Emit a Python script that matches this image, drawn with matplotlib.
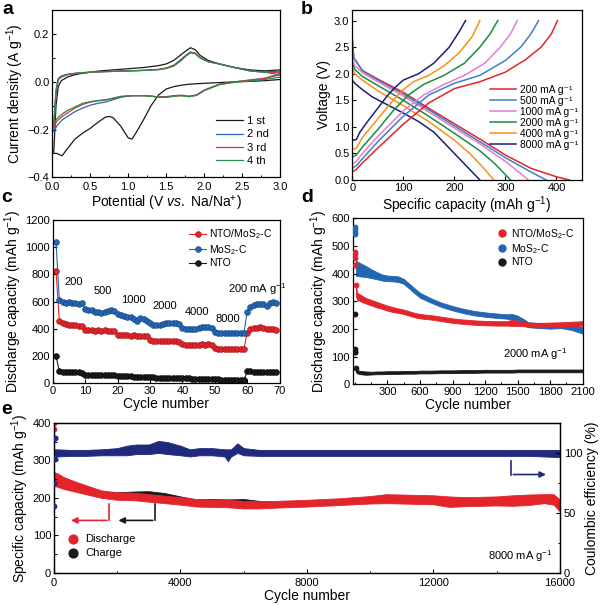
import matplotlib.pyplot as plt
from matplotlib.ticker import MultipleLocator

plt.rcParams['font.family'] = ['Liberation Sans', 'DejaVu Sans']
plt.rcParams['mathtext.fontset'] = 'custom'
plt.rcParams['mathtext.rm'] = 'Liberation Sans'
plt.rcParams['mathtext.it'] = 'Liberation Sans:italic'
plt.rcParams['mathtext.bf'] = 'Liberation Sans:bold'
plt.rcParams['xtick.direction'] = 'in'
plt.rcParams['ytick.direction'] = 'in'
plt.rcParams['xtick.labelsize'] = 8
plt.rcParams['ytick.labelsize'] = 8
plt.rcParams['axes.labelsize'] = 10
plt.rcParams['axes.linewidth'] = 0.9

# ---- a: CV curves ----
pot_down = [3.0, 2.8, 2.6, 2.4, 2.2, 2.0, 1.9, 1.8, 1.7, 1.6, 1.5, 1.4, 1.3, 1.2, 1.1,
            1.05, 1.0, 0.9, 0.8, 0.75, 0.7, 0.6, 0.5, 0.4, 0.3, 0.2, 0.13, 0.06, 0.02]
pot_up = [0.02, 0.05, 0.08, 0.12, 0.2, 0.3, 0.4, 0.6, 0.8, 1.0, 1.2, 1.4, 1.5, 1.6, 1.7,
          1.76, 1.82, 1.88, 1.95, 2.05, 2.2, 2.4, 2.6, 2.8, 3.0]
cv1_down = [0.01, 0.005, 0.002, 0.0, -0.003, -0.006, -0.008, -0.01, -0.014, -0.02, -0.03,
            -0.055, -0.1, -0.16, -0.215, -0.24, -0.235, -0.185, -0.15, -0.145, -0.148, -0.17,
            -0.195, -0.215, -0.24, -0.28, -0.31, -0.3, -0.3]
cv1_up = [-0.3, -0.1, -0.02, 0.005, 0.02, 0.03, 0.036, 0.045, 0.05, 0.055, 0.06, 0.068, 0.075,
          0.09, 0.115, 0.13, 0.143, 0.135, 0.11, 0.09, 0.075, 0.06, 0.05, 0.046, 0.05]
cv2_down = [0.03, 0.015, 0.008, 0.0, -0.01, -0.035, -0.055, -0.06, -0.056, -0.058, -0.062,
            -0.063, -0.06, -0.058, -0.058, -0.058, -0.06, -0.065, -0.075, -0.08, -0.085, -0.09,
            -0.098, -0.11, -0.125, -0.145, -0.16, -0.185, -0.21]
cv2_up = [-0.21, -0.05, 0.01, 0.02, 0.03, 0.035, 0.038, 0.042, 0.044, 0.046, 0.048, 0.052,
          0.058, 0.07, 0.095, 0.112, 0.125, 0.12, 0.1, 0.085, 0.075, 0.06, 0.047, 0.042, 0.045]
cv3_down = [0.035, 0.015, 0.006, 0.0, -0.01, -0.035, -0.055, -0.062, -0.058, -0.06, -0.064,
            -0.064, -0.06, -0.058, -0.058, -0.058, -0.059, -0.062, -0.07, -0.073, -0.077, -0.08,
            -0.085, -0.095, -0.11, -0.13, -0.145, -0.165, -0.19]
cv3_up = [-0.19, -0.04, 0.012, 0.022, 0.03, 0.035, 0.038, 0.042, 0.044, 0.046, 0.048, 0.052,
          0.057, 0.068, 0.093, 0.11, 0.124, 0.12, 0.1, 0.085, 0.075, 0.06, 0.046, 0.04, 0.04]
cv4_down = [0.02, 0.01, 0.004, -0.002, -0.012, -0.037, -0.057, -0.062, -0.058, -0.06, -0.065,
            -0.065, -0.06, -0.058, -0.058, -0.058, -0.059, -0.061, -0.068, -0.072, -0.075, -0.078,
            -0.083, -0.09, -0.105, -0.12, -0.135, -0.155, -0.175]
cv4_up = [-0.175, -0.035, 0.015, 0.025, 0.032, 0.036, 0.039, 0.042, 0.044, 0.046, 0.048, 0.051,
          0.056, 0.066, 0.09, 0.108, 0.122, 0.118, 0.1, 0.085, 0.075, 0.06, 0.046, 0.04, 0.03]
cv_labels = ['1 st', '2 nd', '3 rd', '4 th']
cv_colors = ['#1a1a1a', '#2b64b0', '#d8342f', '#2c8a4e']

# ---- b: charge / discharge profiles ----
rate_labels = ['200 mA g⁻¹', '500 mA g⁻¹', '1000 mA g⁻¹',
               '2000 mA g⁻¹', '4000 mA g⁻¹', '8000 mA g⁻¹']
rate_colors = ['#e3242b', '#3f7fcc', '#e57fcb', '#1b8b3c', '#f7901e', '#1c2070']
dis_q = [[0, 3, 20, 50, 100, 150, 200, 250, 300, 350, 400, 425],
         [0, 3, 20, 50, 100, 150, 200, 250, 300, 350, 380],
         [0, 5, 20, 50, 100, 150, 200, 250, 300, 330, 345],
         [0, 5, 20, 50, 100, 150, 200, 250, 280, 300, 310],
         [0, 5, 20, 50, 100, 150, 200, 230, 255, 270, 277],
         [0, 5, 20, 40, 60, 80, 100, 130, 160, 190, 220, 240, 250]]
dis_v = [[2.65, 2.3, 2.06, 1.9, 1.65, 1.35, 1.06, 0.77, 0.47, 0.22, 0.06, 0.0],
         [2.7, 2.3, 2.05, 1.88, 1.62, 1.32, 1.02, 0.72, 0.42, 0.15, 0.0],
         [2.3, 2.15, 2.02, 1.85, 1.58, 1.28, 0.98, 0.68, 0.35, 0.12, 0.0],
         [2.2, 2.08, 1.95, 1.78, 1.5, 1.2, 0.88, 0.55, 0.3, 0.1, 0.0],
         [2.1, 2.0, 1.88, 1.68, 1.4, 1.1, 0.75, 0.5, 0.25, 0.08, 0.0],
         [1.88, 1.82, 1.7, 1.56, 1.46, 1.36, 1.26, 1.1, 0.9, 0.6, 0.3, 0.1, 0.0]]
chg_q = [[0, 8, 20, 50, 100, 150, 200, 250, 300, 340, 370, 390, 402],
         [0, 8, 20, 50, 100, 150, 200, 250, 300, 330, 350, 365],
         [0, 8, 20, 50, 100, 140, 180, 220, 260, 290, 310, 323],
         [0, 8, 20, 50, 80, 110, 140, 180, 220, 250, 270, 285],
         [0, 8, 20, 50, 80, 100, 120, 150, 180, 210, 235, 250],
         [0, 8, 15, 30, 50, 70, 85, 100, 130, 160, 190, 210, 222]]
chg_v = [[0.15, 0.2, 0.32, 0.6, 1.05, 1.45, 1.72, 1.85, 2.03, 2.27, 2.5, 2.75, 3.0],
         [0.22, 0.27, 0.4, 0.72, 1.2, 1.6, 1.82, 1.97, 2.25, 2.5, 2.75, 3.0],
         [0.3, 0.35, 0.5, 0.82, 1.3, 1.6, 1.8, 1.97, 2.2, 2.5, 2.75, 3.0],
         [0.43, 0.47, 0.62, 0.95, 1.3, 1.6, 1.8, 1.97, 2.2, 2.5, 2.75, 3.0],
         [0.57, 0.6, 0.8, 1.15, 1.5, 1.7, 1.85, 1.97, 2.15, 2.4, 2.7, 3.0],
         [0.75, 0.76, 0.9, 1.1, 1.35, 1.6, 1.75, 1.88, 2.0, 2.2, 2.5, 2.8, 3.0]]

# ---- c: rate capability ----
rate_cycles = list(range(1, 70))
rate_nto_mos2 = [825, 455, 445, 438, 430, 425, 425, 420, 418,
                 390, 392, 390, 385, 388, 385, 388, 385, 385, 380,
                 355, 350, 350, 350, 348, 350, 348, 348, 348, 345,
                 315, 312, 310, 310, 310, 310, 310, 308, 310, 305,
                 285, 282, 280, 280, 280, 282, 285, 282, 285, 280,
                 255, 252, 250, 250, 250, 250, 250, 250, 250, 252,
                 370, 395, 405, 405, 410, 405, 400, 400, 398, 392]
rate_mos2 = [1040, 615, 600, 590, 595, 590, 588, 585, 590,
             545, 540, 535, 520, 520, 515, 520, 530, 535, 530,
             510, 500, 495, 490, 485, 470, 460, 480, 470, 460,
             440, 425, 425, 430, 435, 440, 440, 445, 440, 435,
             405, 395, 395, 395, 400, 405, 410, 410, 412, 405,
             375, 368, 368, 370, 372, 372, 372, 372, 372, 372,
             525, 560, 578, 585, 585, 580, 570, 590, 595, 590]
rate_nto = [200, 88, 82, 80, 80, 79, 78, 78, 77,
            62, 60, 60, 59, 58, 58, 58, 57, 57, 56,
            50, 49, 48, 48, 48, 47, 47, 47, 46, 46,
            42, 41, 40, 40, 40, 40, 39, 39, 39, 38,
            34, 33, 33, 32, 32, 32, 31, 31, 31, 30,
            27, 26, 25, 25, 24, 23, 22, 22, 21, 20,
            85, 85, 84, 84, 83, 83, 82, 82, 82, 81]
rate_text = ['200', '500', '1000', '2000', '4000', '8000', '200 mA g$^{-1}$']
rate_text_x = [6.5, 15.5, 25, 34.5, 44.5, 54, 63]
rate_text_y = [745, 680, 614, 564, 520, 470, 693]

# ---- d: cycling at 2000 mA g-1 (band centre and half width) ----
d_cycles = [8, 20, 50, 100, 150, 200, 250, 300, 350, 400, 450, 500, 550, 600, 700, 800,
            900, 1000, 1100, 1200, 1300, 1400, 1450, 1500, 1550, 1600, 1700, 1800, 1900,
            2000, 2100]
d_nto_mos2 = [340, 318, 312, 302, 295, 288, 282, 275, 270, 266, 262, 256, 250, 246, 242,
              236, 230, 226, 223, 221, 220, 220, 222, 220, 218, 215, 214, 215, 216, 218, 220]
d_nto_mos2_w = [20, 13, 12, 10, 10, 10, 9, 9, 9, 8, 8, 8, 8, 8, 8, 8, 8, 8, 8, 8, 8, 8, 11,
                9, 8, 8, 8, 8, 8, 8, 8]
d_mos2 = [420, 418, 414, 408, 400, 393, 386, 383, 382, 380, 372, 355, 338, 322, 303, 287,
          275, 265, 257, 252, 248, 245, 244, 240, 228, 215, 212, 210, 212, 205, 195]
d_mos2_w = [28, 26, 24, 20, 16, 13, 11, 10, 10, 10, 9, 9, 9, 9, 8, 8, 8, 8, 8, 8, 8, 8, 10,
            8, 9, 9, 9, 9, 9, 9, 12]
d_nto = [50, 45, 42, 40, 40, 41, 41, 42, 42, 42, 43, 43, 43, 44, 44, 45, 45, 46, 46, 47, 47,
         47, 47, 48, 48, 48, 48, 48, 48, 48, 48]
d_nto_w = [6, 6, 6, 6, 5, 5, 5, 5, 5, 5, 5, 5, 5, 5, 5, 5, 5, 5, 5, 5, 5, 5, 5, 5, 5, 5, 5,
           5, 5, 5, 5]
d_head_x = [1, 2, 3, 4, 6]
d_head_nto_mos2 = [470, 480, 455, 430, 360]
d_head_mos2 = [545, 560, 570, 550, 430]
d_head_nto = [255, 128, 118, 115, 60]

# ---- e: cycling at 8000 mA g-1 ----
e_cycles = [0, 100, 300, 600, 1000, 1500, 2000, 2500, 3000, 3500, 4000, 4500, 5000, 5500,
            6000, 6500, 7000, 8000, 9000, 10000, 10500, 11000, 12000, 12500, 13000, 14000,
            14500, 15000, 15500, 15800, 16000]
e_dis = [250, 248, 240, 232, 222, 210, 205, 204, 200, 196, 192, 187, 186, 185, 182, 182,
         183, 186, 190, 195, 198, 197, 195, 190, 190, 192, 193, 195, 198, 196, 180]
e_dis_w = [18, 18, 16, 14, 12, 10, 10, 10, 10, 10, 10, 10, 10, 10, 10, 10, 9, 9, 9, 10, 12,
           12, 12, 14, 12, 12, 14, 14, 12, 14, 16]
e_chg = [255, 250, 242, 233, 222, 211, 210, 212, 212, 208, 200, 192, 193, 192, 193, 188,
         185, 186, 190, 195, 198, 197, 195, 190, 190, 192, 193, 195, 198, 196, 182]
e_chg_w = [14, 14, 12, 10, 10, 6, 5, 5, 6, 5, 4, 4, 4, 4, 4, 4, 4, 4, 4, 4, 4, 4, 4, 4, 4,
           4, 4, 4, 4, 4, 4]
e_ce_x = [0, 100, 500, 1000, 1500, 2000, 2300, 2600, 3000, 3300, 3600, 4000, 4300, 4600,
          5000, 5400, 5500, 5600, 5800, 6000, 6500, 7000, 8000, 10000, 12000, 14000, 15000,
          16000]
e_ce = [100, 100, 100, 100, 100.5, 101, 102, 103, 103, 105, 104, 102, 100, 101, 101, 100,
        98, 100, 104, 101, 100, 100, 100, 100, 100, 100, 100, 99.5]
e_ce_w = [3, 3, 2.5, 2.5, 2.5, 3, 4, 4, 4, 5, 5, 4, 3, 3, 3, 3, 5, 3, 4, 3, 2.5, 2.5, 2.5,
          2.5, 2.5, 2.5, 2.5, 3]
e_head_x = [5, 15, 25, 40]
e_head_dis = [400, 385, 360, 320]
e_head_ce = [56, 75, 112, 95]

RED, BLUE, BLACK, NAVY = '#e3242b', '#2366b4', '#1a1a1a', '#1f2a7c'

fig = plt.figure(figsize=(6, 6.05), dpi=100)
ax_a = fig.add_axes([0.087, 0.707, 0.38, 0.276])
ax_b = fig.add_axes([0.587, 0.7025, 0.383, 0.281])
ax_c = fig.add_axes([0.088, 0.367, 0.378, 0.269])
ax_d = fig.add_axes([0.588, 0.365, 0.383, 0.274])
ax_e = fig.add_axes([0.09, 0.053, 0.843, 0.248])

# a
cv_down = [cv1_down, cv2_down, cv3_down, cv4_down]
cv_up = [cv1_up, cv2_up, cv3_up, cv4_up]
for dn, up, lab, col in zip(cv_down, cv_up, cv_labels, cv_colors):
    ax_a.plot(pot_down + pot_up, dn + up, color=col, lw=0.9, label=lab)
ax_a.set_xlim(0, 3.0)
ax_a.set_ylim(-0.4, 0.3)
ax_a.xaxis.set_major_locator(MultipleLocator(0.5))
ax_a.xaxis.set_minor_locator(MultipleLocator(0.25))
ax_a.yaxis.set_major_locator(MultipleLocator(0.2))
ax_a.yaxis.set_minor_locator(MultipleLocator(0.1))
ax_a.set_xlabel('Potential (V $\\it{vs.}$ Na/Na$^{+}$)', labelpad=1)
ax_a.set_ylabel('Current density (A g$^{-1}$)', labelpad=1)
ax_a.legend(loc='lower right', frameon=False, fontsize=8, handlelength=2.4,
            labelspacing=0.3, borderaxespad=0.6, handletextpad=0.4)

# b
for q, v, col in zip(dis_q, dis_v, rate_colors):
    ax_b.plot(q, v, color=col, lw=1.1)
for q, v, col, lab in zip(chg_q, chg_v, rate_colors, rate_labels):
    ax_b.plot(q, v, color=col, lw=1.1, label=lab)
ax_b.set_xlim(0, 450)
ax_b.set_ylim(0, 3.2)
ax_b.xaxis.set_major_locator(MultipleLocator(100))
ax_b.yaxis.set_major_locator(MultipleLocator(0.5))
ax_b.set_xlabel('Specific capacity (mAh g$^{-1}$)', labelpad=1)
ax_b.set_ylabel('Voltage (V)', labelpad=2)
ax_b.legend(loc='center right', bbox_to_anchor=(1.0, 0.37), frameon=False, fontsize=7.4,
            handlelength=2.5, labelspacing=0.1, handletextpad=0.4, borderaxespad=0.3,
            borderpad=0.1)

# c
for vals, col, edge, lab in [(rate_nto_mos2, RED, '#9b1015', 'NTO/MoS$_2$-C'),
                             (rate_mos2, BLUE, '#123f7a', 'MoS$_2$-C'),
                             (rate_nto, BLACK, '#000000', 'NTO')]:
    ax_c.plot(rate_cycles, vals, color=col, lw=0.8, marker='o', ms=4.2,
              mfc=col, mec=edge, mew=0.4, label=lab)
for t, x, y in zip(rate_text, rate_text_x, rate_text_y):
    ax_c.text(x, y, t, ha='center', va='center', fontsize=8)
ax_c.set_xlim(0, 70)
ax_c.set_ylim(0, 1200)
ax_c.xaxis.set_major_locator(MultipleLocator(10))
ax_c.yaxis.set_major_locator(MultipleLocator(200))
ax_c.set_xlabel('Cycle number', labelpad=1)
ax_c.set_ylabel('Discharge capacity (mAh g$^{-1}$)', labelpad=1)
ax_c.legend(loc='upper right', frameon=False, fontsize=7.5, handlelength=1.6,
            labelspacing=0.15, handletextpad=0.3, borderaxespad=0.3)

# d
for c, w, hy, col in [(d_nto, d_nto_w, d_head_nto, BLACK),
                      (d_mos2, d_mos2_w, d_head_mos2, BLUE),
                      (d_nto_mos2, d_nto_mos2_w, d_head_nto_mos2, RED)]:
    lo = [a - b for a, b in zip(c, w)]
    hi = [a + b for a, b in zip(c, w)]
    ax_d.fill_between(d_cycles, lo, hi, color=col, lw=0.6, edgecolor=col)
    ax_d.scatter(d_head_x, hy, s=10, color=col, zorder=3)
for col, lab in [(RED, 'NTO/MoS$_2$-C'), (BLUE, 'MoS$_2$-C'), (BLACK, 'NTO')]:
    ax_d.plot([], [], 'o', color=col, ms=5, label=lab)
ax_d.text(1660, 108, '2000 mA g$^{-1}$', ha='center', va='center', fontsize=8)
ax_d.set_xlim(-20, 2100)
ax_d.set_ylim(0, 600)
ax_d.set_xticks(range(300, 2101, 300))
ax_d.xaxis.set_minor_locator(MultipleLocator(150))
ax_d.yaxis.set_major_locator(MultipleLocator(100))
ax_d.set_xlabel('Cycle number', labelpad=1)
ax_d.set_ylabel('Discharge capacity (mAh g$^{-1}$)', labelpad=1)
ax_d.legend(loc='upper right', frameon=False, fontsize=7.5, handlelength=1.0,
            labelspacing=0.15, handletextpad=0.4, borderaxespad=0.4)

# e
ax_e2 = ax_e.twinx()
lo = [a - b for a, b in zip(e_chg, e_chg_w)]
hi = [a + b for a, b in zip(e_chg, e_chg_w)]
ax_e.fill_between(e_cycles, lo, hi, color=BLACK, lw=0.6, edgecolor=BLACK)
lo = [a - b for a, b in zip(e_dis, e_dis_w)]
hi = [a + b for a, b in zip(e_dis, e_dis_w)]
ax_e.fill_between(e_cycles, lo, hi, color=RED, lw=0.6, edgecolor=RED)
ax_e.scatter(e_head_x, e_head_dis, s=10, color=RED, zorder=3)
lo = [a - b for a, b in zip(e_ce, e_ce_w)]
hi = [a + b for a, b in zip(e_ce, e_ce_w)]
ax_e2.fill_between(e_ce_x, lo, hi, color=NAVY, lw=0.6, edgecolor=NAVY)
ax_e2.scatter(e_head_x, e_head_ce, s=10, color=NAVY, zorder=3)

# axis arrows
ax_e.plot([1750, 1750], [183, 140], color=RED, lw=1.2)
ax_e.annotate('', xy=(450, 140), xytext=(1760, 140),
              arrowprops=dict(arrowstyle='-|>', color=RED, lw=1.2, mutation_scale=9))
ax_e.plot([3200, 3200], [183, 140], color=BLACK, lw=1.2)
ax_e.annotate('', xy=(1950, 140), xytext=(3210, 140),
              arrowprops=dict(arrowstyle='-|>', color=BLACK, lw=1.2, mutation_scale=9))
ax_e2.plot([14450, 14450], [93, 82], color=NAVY, lw=1.2)
ax_e2.annotate('', xy=(15650, 82), xytext=(14440, 82),
               arrowprops=dict(arrowstyle='-|>', color=NAVY, lw=1.2, mutation_scale=9))

ax_e.scatter([], [], s=40, color=RED, label='Discharge')
ax_e.scatter([], [], s=40, color=BLACK, label='Charge')
ax_e.legend(loc='lower left', bbox_to_anchor=(0.0, 0.05), frameon=False, fontsize=8,
            handletextpad=0.1, labelspacing=0.3, borderaxespad=0.3)
ax_e.text(0.985, 0.06, '8000 mA g$^{-1}$', transform=ax_e.transAxes, ha='right',
          va='bottom', fontsize=8)
ax_e.set_xlim(0, 16000)
ax_e.set_ylim(0, 400)
ax_e2.set_ylim(0, 125)
ax_e.xaxis.set_major_locator(MultipleLocator(4000))
ax_e.xaxis.set_minor_locator(MultipleLocator(2000))
ax_e.yaxis.set_major_locator(MultipleLocator(100))
ax_e.yaxis.set_minor_locator(MultipleLocator(50))
ax_e2.set_yticks([0, 50, 100])
ax_e2.yaxis.set_minor_locator(MultipleLocator(25))
ax_e2.tick_params(which='both', direction='in')
ax_e.set_xlabel('Cycle number', labelpad=1)
ax_e.set_ylabel('Specific capacity (mAh g$^{-1}$)', labelpad=1)
ax_e2.set_ylabel('Coulombic efficiency (%)', labelpad=2)

for ax in [ax_a, ax_b, ax_c, ax_d, ax_e]:
    ax.tick_params(which='major', length=3, width=0.8)
    ax.tick_params(which='minor', length=1.8, width=0.7)
    ax.tick_params(axis='both', pad=2)
ax_a.tick_params(axis='x', pad=3.5)
ax_e.tick_params(axis='x', pad=3.5)
ax_e2.tick_params(which='major', length=3, width=0.8, pad=3)
ax_e2.tick_params(which='minor', length=1.8, width=0.7)

for lab, x, y in [('a', 0.004, 0.998), ('b', 0.502, 0.998), ('c', 0.002, 0.688),
                  ('d', 0.502, 0.688), ('e', 0.002, 0.337)]:
    fig.text(x, y, lab, fontsize=14, fontweight='bold', ha='left', va='top')

fig.savefig('out.png', dpi=100)
